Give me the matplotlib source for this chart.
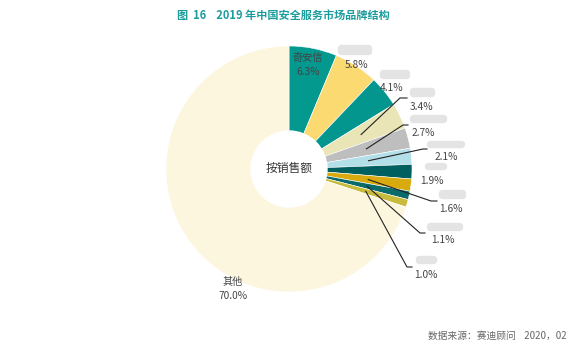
import numpy as np
import matplotlib.pyplot as plt
from matplotlib.patches import FancyBboxPatch, Circle

plt.rcParams["font.family"] = ["Noto Sans CJK SC", "DejaVu Sans"]

# data (clockwise from 12 o'clock)
names = ["奇安信", "", "", "", "", "", "", "", "", "", "其他"]
shares = [6.3, 5.8, 4.1, 3.4, 2.7, 2.1, 1.9, 1.6, 1.1, 1.0, 70.0]
colors = ["#03998f", "#fbda72", "#03968f", "#e9e5b6", "#bebebe", "#b3dfe8",
          "#00605f", "#d9aa0e", "#0b6b6b", "#c8bb3c", "#fdf6df"]

W, H = 580, 351
CX, CY, R = 289, H - 169, 123

fig = plt.figure(figsize=(5.8, 3.51), dpi=100)
ax = fig.add_axes([0, 0, 1, 1])

wedges, _ = ax.pie(shares, colors=colors, startangle=90, counterclock=False,
                   center=(CX, CY), radius=R,
                   wedgeprops=dict(linewidth=0.4, edgecolor="white"))
ax.add_patch(Circle((CX, CY), 38, color="white", zorder=3))
ax.text(CX, CY + 1, "按销售额", ha="center", va="center", fontsize=8.5,
        color="#333333", zorder=4)

# label layout (image pixel coords, y downward): pct text, blurred-name box, leader elbow
pct_pos = [(308, 72), (357, 65), (392, 88), (422, 107), (423, 133), (446, 157),
           (432, 181), (451, 209), (443, 240), (426, 275), (233, 296)]
boxes = [None, (339, 46, 32, 8), (381, 71, 28, 7), (411, 89, 23, 7),
         (411, 116, 35, 6), (428, 142, 36, 5), (426, 164, 20, 5),
         (440, 191, 25, 7), (428, 224, 34, 6), (417, 257, 19, 6), None]
elbows = {3: ((400, 98), (407, 98)), 4: ((403, 125), (408, 125)),
          5: ((423, 149), (427, 149)), 7: ((431, 201), (437, 201)),
          8: ((420, 233), (425, 233)), 9: ((407, 267), (412, 267))}

for i, (name, v) in enumerate(zip(names, shares)):
    px, py = pct_pos[i]
    ax.text(px, H - py, f"{v:.1f}%", ha="center", va="center", fontsize=7.3,
            color="#444444", zorder=5)
    if name:
        ax.text(px, H - py + 14, name, ha="center", va="center", fontsize=7.3,
                color="#444444", zorder=5)
    if boxes[i] is not None:
        bx, by, bw, bh = boxes[i]
        ax.add_patch(FancyBboxPatch((bx, H - by - bh), bw, bh,
                                    boxstyle="round,pad=1.2,rounding_size=4",
                                    fc="#dcdcdc", ec="none", alpha=0.75, zorder=5))
    if i in elbows:
        start = 90 - 360 * (sum(shares[:i]) + v / 2) / 100
        sx = CX + 0.65 * R * np.cos(np.radians(start))
        sy = CY + 0.65 * R * np.sin(np.radians(start))
        (ex, ey), (fx, fy) = elbows[i]
        ax.plot([sx, ex, fx], [sy, H - ey, H - fy], color="#222222", lw=0.8,
                zorder=4)

ax.text(283, H - 15, "图  16    2019 年中国安全服务市场品牌结构", ha="center",
        va="center", fontsize=8, fontweight="bold", color="#1c9c9c")
ax.text(567, H - 336, "数据来源：赛迪顾问    2020，02", ha="right", va="center",
        fontsize=7, color="#666666")

ax.set_xlim(0, W)
ax.set_ylim(0, H)
ax.set_aspect("equal")
ax.axis("off")
fig.savefig("out.png", dpi=100)
